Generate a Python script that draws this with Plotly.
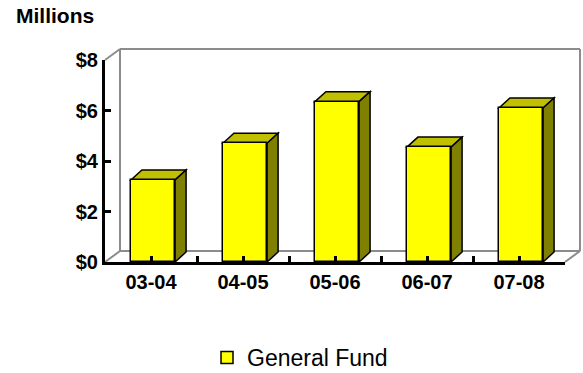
import plotly.graph_objects as go

# ---- data ----
categories = ["03-04", "04-05", "05-06", "06-07", "07-08"]
general_fund = [3.25, 4.7, 6.35, 4.55, 6.1]
y_tick_values = [0, 2, 4, 6, 8]
y_tick_labels = ["$0", "$2", "$4", "$6", "$8"]
series_name = "General Fund"

# ---- layout constants (pixels) ----
W, H = 583, 373
ML, MR, MT, MB = 105, 18, 60, 111
PW, PH = W - ML - MR, H - MT - MB
X_RANGE = [-0.5, len(categories) - 0.5]
Y_RANGE = [0, 8]
px_per_x = PW / (X_RANGE[1] - X_RANGE[0])
px_per_y = PH / (Y_RANGE[1] - Y_RANGE[0])

WALL_DX, WALL_DY = 15, 11      # depth of the back wall (px)
BAR_DX, BAR_DY = 11, 10        # depth of each bar (px)
BAR_INSET = 2                  # bar front sits slightly behind the front plane (px)
BAR_W = 0.48

FRONT = "#FFFF00"
TOP = "#C0C000"
SIDE = "#808000"
WALL = "#8C8C8C"
FONT = "Liberation Sans, Arial, sans-serif"

xpos = [i + BAR_INSET / px_per_x for i in range(len(categories))]
ddx = BAR_DX / px_per_x
ddy = BAR_DY / px_per_y

fig = go.Figure()

shapes = []
# back wall + floor + left wall edges in paper coordinates
wdx, wdy = WALL_DX / PW, WALL_DY / PH
wall_lines = [
    (0, 1, wdx, 1 + wdy),             # top-left diagonal
    (wdx, 1 + wdy, 1 + wdx, 1 + wdy), # back wall top
    (1 + wdx, 1 + wdy, 1 + wdx, wdy), # back wall right
    (wdx, 1 + wdy, wdx, wdy),         # back wall left
    (wdx, wdy, 1 + wdx, wdy),         # floor back edge
    (0, 0, wdx, wdy),                 # floor left diagonal
    (1, 0, 1 + wdx, wdy),             # floor right diagonal
]
for x0, y0, x1, y1 in wall_lines:
    shapes.append(dict(type="line", xref="paper", yref="paper", x0=x0, y0=y0, x1=x1, y1=y1,
                       line=dict(color=WALL, width=2), layer="below"))

# top and side faces of each bar, derived from the data through the axes
for xc, v in zip(xpos, general_fund):
    x0, x1 = xc - BAR_W / 2, xc + BAR_W / 2
    top = f"M{x0},{v} L{x0+ddx},{v+ddy} L{x1+ddx},{v+ddy} L{x1},{v} Z"
    side = f"M{x1},{0} L{x1},{v} L{x1+ddx},{v+ddy} L{x1+ddx},{ddy} Z"
    shapes.append(dict(type="path", xref="x", yref="y", path=top, fillcolor=TOP,
                       line=dict(color="black", width=1.5), layer="below"))
    shapes.append(dict(type="path", xref="x", yref="y", path=side, fillcolor=SIDE,
                       line=dict(color="black", width=1.5), layer="below"))

fig.add_trace(go.Bar(
    x=xpos, y=general_fund, width=BAR_W, name=series_name,
    marker=dict(color=FRONT, line=dict(color="black", width=1.5)),
    showlegend=True, hoverinfo="skip",
))

x_tickvals = [X_RANGE[0] + 0.5 * k for k in range(2 * len(categories) + 1)]
x_ticktext = []
for t in x_tickvals:
    if abs(t - round(t)) < 1e-9:
        x_ticktext.append(categories[int(round(t))])
    else:
        x_ticktext.append("")

tickfont = dict(size=20, color="black", family=FONT, weight="bold")

fig.update_layout(
    width=W, height=H,
    margin=dict(l=ML, r=MR, t=MT, b=MB, pad=0, autoexpand=False),
    paper_bgcolor="white", plot_bgcolor="rgba(0,0,0,0)",
    font=dict(family=FONT, color="black"),
    shapes=shapes,
    bargap=0,
    title=dict(text="<b>Millions</b>", font=dict(size=21, color="black", family=FONT),
               xref="container", yref="container", x=16 / W, xanchor="left",
               y=1 - 8 / H, yanchor="top"),
    xaxis=dict(range=X_RANGE, tickvals=x_tickvals, ticktext=x_ticktext,
               showgrid=False, zeroline=False, showline=True, linecolor="black", linewidth=3,
               ticks="inside", ticklen=6, tickwidth=3, tickcolor="black",
               tickfont=tickfont, fixedrange=True, automargin=False),
    yaxis=dict(range=Y_RANGE, tickvals=y_tick_values, ticktext=y_tick_labels,
               showgrid=False, zeroline=False, showline=True, linecolor="black", linewidth=3,
               ticks="inside", ticklen=6, tickwidth=3, tickcolor="black",
               tickfont=tickfont, fixedrange=True, automargin=False),
    showlegend=True,
    legend=dict(orientation="h", x=(300 - ML) / PW, xanchor="center",
                y=(PH - (336 - MT)) / PH, yanchor="top",
                font=dict(size=23, color="black", family=FONT), bgcolor="rgba(0,0,0,0)",
                itemwidth=30),
)

fig.write_html("out.html")
